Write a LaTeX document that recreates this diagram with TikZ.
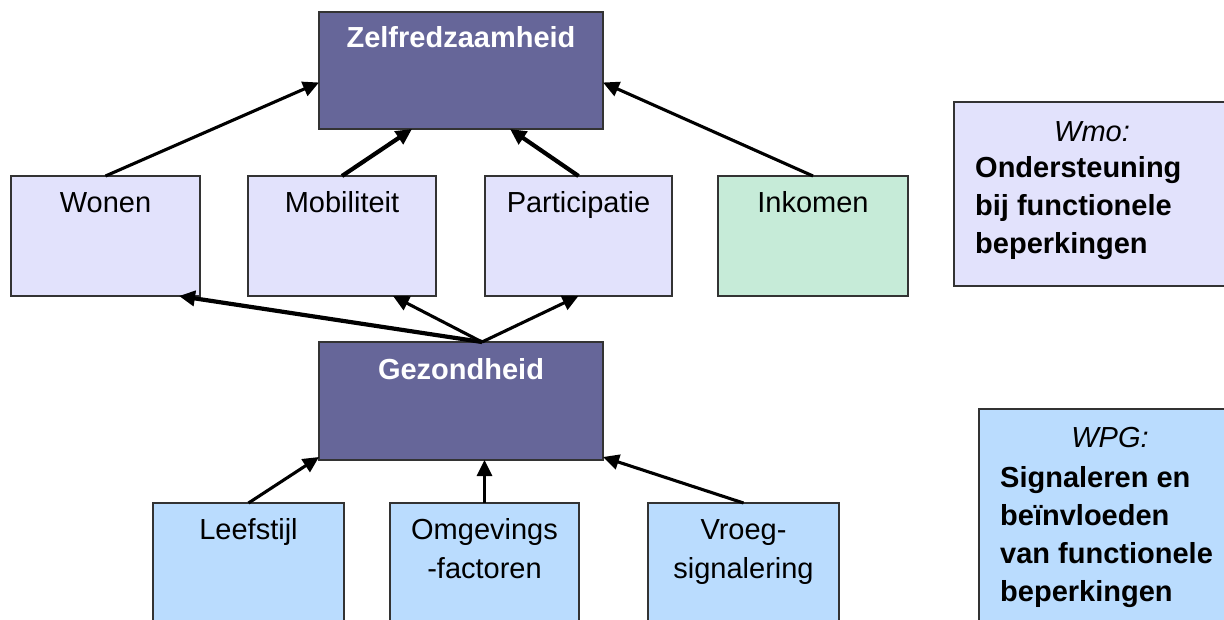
\documentclass[tikz,border=0pt]{standalone}
\usepackage{fontspec}
\setmainfont{Liberation Sans}
\usetikzlibrary{arrows.meta,calc}

\definecolor{darkbox}{HTML}{666699}
\definecolor{lavender}{HTML}{E2E2FC}
\definecolor{mint}{HTML}{C6EBD8}
\definecolor{skyblue}{HTML}{BADCFE}
\definecolor{boxline}{HTML}{333333}

\tikzset{
  box/.style={draw=boxline, line width=1.4pt, anchor=north west, inner sep=0pt, outer sep=0pt},
  plain/.style={font=\fontsize{29}{34}\selectfont, anchor=base, inner sep=0pt},
  head/.style={plain, font=\fontsize{29}{34}\selectfont\bfseries, text=white},
  note/.style={font=\fontsize{29}{34}\selectfont\bfseries, anchor=base west, inner sep=0pt},
  notehead/.style={font=\fontsize{29}{34}\selectfont\itshape, anchor=base, inner sep=0pt},
  link/.style={-{Triangle[length=16pt,width=15pt]}, line width=3.1pt},
  heavy/.style={link, line width=4.2pt}
}

\begin{document}
\begin{tikzpicture}[x=1pt,y=-1pt]
\useasboundingbox (0,0) rectangle (1224,620);
\clip (0,0) rectangle (1224,620);

% top level
\node[box, fill=darkbox, minimum width=284, minimum height=117] (zelf) at (319,12) {};
\node[head] at ($(zelf.north)+(0,36)$) {Zelfredzaamheid};

% domains
\node[box, fill=lavender, minimum width=189, minimum height=120] (wonen) at (11,176) {};
\node[box, fill=lavender, minimum width=188, minimum height=120] (mobil) at (248,176) {};
\node[box, fill=lavender, minimum width=187, minimum height=120] (part) at (485,176) {};
\node[box, fill=mint, minimum width=190, minimum height=120] (inkomen) at (718,176) {};
\node[plain] at ($(wonen.north)+(0,37)$) {Wonen};
\node[plain] at ($(mobil.north)+(0,37)$) {Mobiliteit};
\node[plain] at ($(part.north)+(0,37)$) {Participatie};
\node[plain] at ($(inkomen.north)+(0,37)$) {Inkomen};

% health
\node[box, fill=darkbox, minimum width=284, minimum height=118] (gez) at (319,342) {};
\node[head] at ($(gez.north)+(0,38)$) {Gezondheid};

% determinants
\node[box, fill=skyblue, minimum width=191, minimum height=140] (leef) at (153,503) {};
\node[box, fill=skyblue, minimum width=189, minimum height=140] (omg) at (390,503) {};
\node[box, fill=skyblue, minimum width=191, minimum height=140] (vroeg) at (648,503) {};
\node[plain] at ($(leef.north)+(0,36)$) {Leefstijl};
\node[plain] at ($(omg.north)+(0,36)$) {Omgevings};
\node[plain] at ($(omg.north)+(0,75)$) {-factoren};
\node[plain] at ($(vroeg.north)+(0,36)$) {Vroeg-};
\node[plain] at ($(vroeg.north)+(0,75)$) {signalering};

% legend boxes
\node[box, fill=lavender, minimum width=300, minimum height=184] (wmo) at (954,102) {};
\node[notehead] at (1092,142) {Wmo:};
\node[note] at (975,178) {Ondersteuning};
\node[note] at (975,216) {bij functionele};
\node[note] at (975,254) {beperkingen};

\node[box, fill=skyblue, minimum width=300, minimum height=250] (wpg) at (979,409) {};
\node[notehead] at (1110,447) {WPG:};
\node[note] at (1000,487) {Signaleren en};
\node[note] at (1000,525) {beïnvloeden};
\node[note] at (1000,563) {van functionele};
\node[note] at (1000,601) {beperkingen};

% domains -> self-reliance
\draw[link] (wonen.north) -- ($(zelf.west)+(0,12)$);
\draw[heavy] (mobil.north) -- ($(zelf.south)+(-49,0)$);
\draw[heavy] (part.north) -- ($(zelf.south)+(49,0)$);
\draw[link] (inkomen.north) -- ($(zelf.east)+(0,12)$);

% health -> domains
\coordinate (gtop) at ($(gez.north)+(21,0)$);
\draw[heavy] (gtop) -- ($(wonen.south east)+(-21,0)$);
\draw[link] (gtop) -- ($(mobil.south)+(51,0)$);
\draw[link] (gtop) -- (part.south);

% determinants -> health
\draw[link] (leef.north) -- ($(gez.south west)+(0,-3)$);
\draw[link] (omg.north) -- (omg.north |- gez.south);
\draw[link] (vroeg.north) -- ($(gez.south east)+(0,-3)$);
\end{tikzpicture}
\end{document}
